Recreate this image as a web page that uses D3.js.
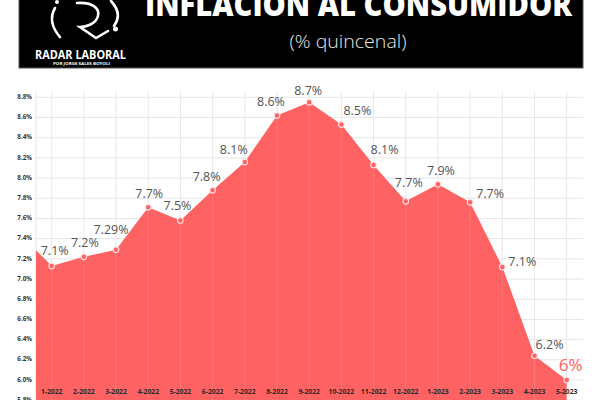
<!DOCTYPE html>
<html>
<head>
<meta charset="utf-8">
<script src="https://cdn.jsdelivr.net/npm/d3@7"></script>
<style>
  html, body { margin: 0; padding: 0; background: #fff; }
  svg { display: block; font-family: "Open Sans", "DejaVu Sans", sans-serif; }
</style>
</head>
<body>
<svg id="chart" width="600" height="400"></svg>
<script>
/* inflacion quincenal — area chart */

// data
const periods = ["12-2021", "1-2022", "2-2022", "3-2022", "4-2022", "5-2022", "6-2022", "7-2022", "8-2022",
  "9-2022", "10-2022", "11-2022", "12-2022", "1-2023", "2-2023", "3-2023", "4-2023", "5-2023"];
const inflation = [7.45, 7.13, 7.22, 7.29, 7.71, 7.58, 7.88, 8.16, 8.62,
  8.75, 8.53, 8.13, 7.77, 7.94, 7.76, 7.12, 6.24, 6.00];
const valueLabels = [null, "7.1%", "7.2%", "7.29%", "7.7%", "7.5%", "7.8%", "8.1%", "8.6%",
  "8.7%", "8.5%", "8.1%", "7.7%", "7.9%", "7.7%", "7.1%", "6.2%", "6%"];
const yTicks = [5.8, 6.0, 6.2, 6.4, 6.6, 6.8, 7.0, 7.2, 7.4, 7.6, 7.8, 8.0, 8.2, 8.4, 8.6, 8.8];

// label nudges (px) so the value labels sit where the original put them
const labelNudge = [null, [3, -11], [1, -10], [-5, -16], [1, -9], [-3, -10], [-6, -9], [-11, -8], [-6, -9],
  [-1, -7], [16, -10], [11, -11], [3, -14], [3, -9], [20, -4], [20, -1], [15, -7], [4, -9]];

const RED = "#ff6262";
const PLOT_L = 36, PLOT_R = 583, PLOT_T = 92, PLOT_B = 400;

const svg = d3.select("#chart");

// ── Header band ──
const head = svg.append("g");
head.append("rect")
  .attr("x", 19).attr("y", -1).attr("width", 564).attr("height", 69)
  .attr("fill", "#000").attr("stroke", "#555").attr("stroke-width", 1);

// title is cut by the top edge, as in the original
head.append("text")
  .attr("x", 145).attr("y", 16)
  .attr("font-size", 31).attr("font-weight", 800).attr("fill", "#fff")
  .attr("textLength", 427).attr("lengthAdjust", "spacingAndGlyphs")
  .text("INFLACION AL CONSUMIDOR");

head.append("text")
  .attr("x", 348).attr("y", 48)
  .attr("text-anchor", "middle")
  .attr("font-size", 18).attr("font-weight", 300).attr("fill", "#e6e6e6")
  .attr("textLength", 117).attr("lengthAdjust", "spacingAndGlyphs")
  .text("(% quincenal)");

// logo
const logo = head.append("g")
  .attr("fill", "none").attr("stroke", "#fff").attr("stroke-width", 2.6).attr("stroke-linecap", "round");
logo.append("path").attr("d", "M55,8 Q47,22 60,37");
logo.append("path").attr("d", "M77,3 C92,2 100,8 98,16 C96,24 86,27 80,27 L96,38 L108,31");
logo.append("path").attr("d", "M111,1 Q123,14 114,26");
logo.append("circle").attr("cx", 57).attr("cy", 2).attr("r", 2).attr("fill", "#fff").attr("stroke", "none");
logo.append("circle").attr("cx", 115.5).attr("cy", 29).attr("r", 2.5).attr("fill", "#fff").attr("stroke", "none");

head.append("text")
  .attr("x", 80.5).attr("y", 58.5).attr("text-anchor", "middle")
  .attr("font-size", 11.5).attr("font-weight", 700).attr("fill", "#fff")
  .attr("textLength", 91).attr("lengthAdjust", "spacingAndGlyphs")
  .text("RADAR LABORAL");
head.append("text")
  .attr("x", 81.5).attr("y", 64.5).attr("text-anchor", "middle")
  .attr("font-size", 4.2).attr("font-weight", 700).attr("fill", "#fff")
  .attr("textLength", 57).attr("lengthAdjust", "spacingAndGlyphs")
  .text("POR JORGE SALES BOYOLI");

// ── Scales ──
const x = d3.scalePoint().domain(periods).range([19.5, 566.7]);
const y = d3.scaleLinear().domain([6.0, 8.8]).range([380, 97.3]);

// ── Grid ──
const grid = svg.append("g").attr("stroke", "#e6e6e6").attr("stroke-width", 1);
yTicks.forEach(t => {
  grid.append("line")
    .attr("x1", PLOT_L).attr("x2", PLOT_R)
    .attr("y1", y(t)).attr("y2", y(t));
});
const shown = periods.slice(1);
shown.forEach(p => {
  grid.append("line")
    .attr("x1", x(p)).attr("x2", x(p))
    .attr("y1", PLOT_T).attr("y2", PLOT_B);
});
grid.append("line").attr("x1", PLOT_L).attr("x2", PLOT_L).attr("y1", PLOT_T).attr("y2", PLOT_B);

// ── Area ──
svg.append("clipPath").attr("id", "plot-clip")
  .append("rect").attr("x", PLOT_L).attr("y", 0).attr("width", PLOT_R - PLOT_L).attr("height", 400);

const series = periods.map((p, i) => ({ p, v: inflation[i], label: valueLabels[i], nudge: labelNudge[i] }));

const area = d3.area()
  .x(d => x(d.p))
  .y0(PLOT_B + 5)
  .y1(d => y(d.v));

svg.append("path")
  .datum(series)
  .attr("clip-path", "url(#plot-clip)")
  .attr("fill", RED)
  .attr("d", area);

// faint vertical grid over the fill
shown.forEach(p => {
  svg.append("line")
    .attr("x1", x(p)).attr("x2", x(p))
    .attr("y1", PLOT_T).attr("y2", PLOT_B)
    .attr("stroke", "rgba(255,255,255,0.12)").attr("stroke-width", 1);
});

// ── Y axis labels ──
yTicks.forEach(t => {
  svg.append("text")
    .attr("x", 32).attr("y", y(t))
    .attr("text-anchor", "end").attr("dominant-baseline", "middle")
    .attr("font-size", 6.3).attr("font-weight", 700).attr("fill", "#333")
    .text(t.toFixed(1) + "%");
});

// ── X axis labels ──
shown.forEach(p => {
  svg.append("text")
    .attr("x", x(p)).attr("y", 394)
    .attr("text-anchor", "middle")
    .attr("font-size", 6.8).attr("font-weight", 700).attr("fill", "#2a2a2a")
    .text(p);
});

// ── Points + value labels ──
const pts = series.filter(d => d.label);
pts.forEach((d, i) => {
  svg.append("circle")
    .attr("cx", x(d.p)).attr("cy", y(d.v)).attr("r", 2.8)
    .attr("fill", RED).attr("stroke", "#ffe3e3").attr("stroke-width", 1.1);

  const last = i === pts.length - 1;
  svg.append("text")
    .attr("x", x(d.p) + d.nudge[0]).attr("y", y(d.v) + d.nudge[1])
    .attr("text-anchor", "middle")
    .attr("font-size", last ? 17 : 12.5)
    .attr("fill", last ? RED : "#555")
    .text(d.label);
});
</script>
</body>
</html>
